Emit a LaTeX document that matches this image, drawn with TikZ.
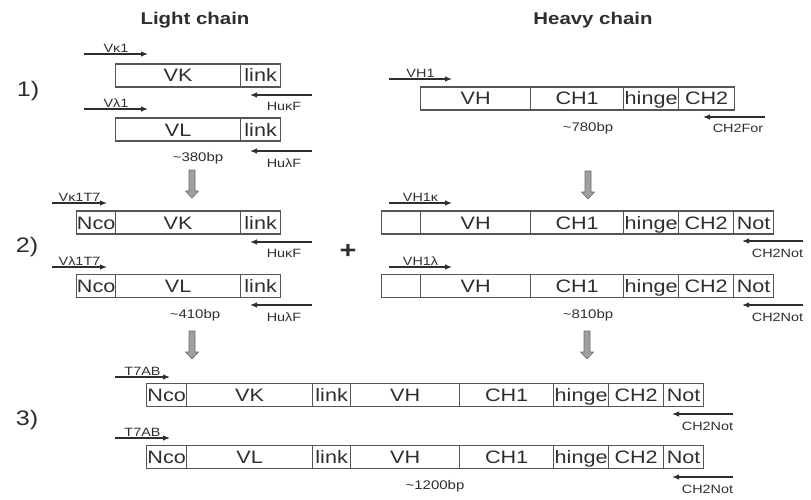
\documentclass[tikz,border=0pt]{standalone}
\usepackage{fontspec}
\setmainfont{Liberation Sans}[FakeStretch=1.2]
\usetikzlibrary{arrows.meta}
\definecolor{ink}{HTML}{2E2E2E}
\definecolor{frame}{HTML}{555555}
\begin{document}
\begin{tikzpicture}
   [x=1pt, y=-1pt, text=ink,
    seg node/.style={rectangle, draw=frame, line width=1.3pt, minimum height=23pt, inner sep=0pt, text height=13pt, text depth=0pt, anchor=west, font=\fontsize{18}{18}\selectfont},
    fwd primer/.style={draw=ink, line width=1.2pt, -{Latex[length=7pt,width=5.5pt]}},
    rev primer/.style={draw=ink, line width=1.2pt, -{Latex[length=7pt,width=5.5pt]}},
    primer label/.style={font=\fontsize{12}{12}\selectfont, inner sep=1pt},
    size label/.style={font=\fontsize{12.5}{13}\selectfont},
    row label/.style={font=\fontsize{21}{22}\selectfont},
    title label/.style={font=\bfseries\fontsize{17}{18}\selectfont},
    pics/gray arrow/.style={code={
      \draw[fill=gray!75, draw=gray!85!black, line width=0.6pt]
        (-3,0) -- (3,0) -- (3,21) -- (6.5,21) -- (0,28) -- (-6.5,21) -- (-3,21) -- cycle;}}]
   \useasboundingbox (0,0) rectangle (811,500);

   % titles
   \node[title label] (lt) at (195,20) {Light chain};
   \node[title label] (ht) at (593,20) {Heavy chain};

   % step numbers
   \node[row label] (s1) at (28,91) {1)};
   \node[row label] (s2) at (27,247) {2)};
   \node[row label] (s3) at (27,420) {3)};
   \node[font=\bfseries\fontsize{24}{24}\selectfont] (plus) at (348,251) {+};

   % step 1, light chain
   \draw[fwd primer] (84,54) -- node[primer label, above] (p1) {Vκ1} (148,54);
   \foreach \x/\w/\t [count=\i] in {115/125/VK, 240/40/link}
      \node[seg node, minimum width=\w pt] (ak\i) at (\x,75.5) {\t};
   \draw[rev primer] (312,95) -- node[primer label, below=6pt, xshift=3pt] (p2) {HuκF} (250,95);
   \draw[fwd primer] (84,109) -- node[primer label, above] (p3) {Vλ1} (148,109);
   \foreach \x/\w/\t [count=\i] in {115/125/VL, 240/40/link}
      \node[seg node, minimum width=\w pt] (al\i) at (\x,129.5) {\t};
   \draw[rev primer] (312,151) -- node[primer label, below=6pt, xshift=3pt] (p4) {HuλF} (250,151);
   \node[size label] (bp1) at (198,158) {\textasciitilde380bp};

   % step 1, heavy chain
   \draw[fwd primer] (389,79) -- node[primer label, above] (p5) {VH1} (452,79);
   \foreach \x/\w/\t [count=\i] in {420/110/VH, 530/93/CH1, 623/55/hinge, 678/56/CH2}
      \node[seg node, minimum width=\w pt] (ah\i) at (\x,98.5) {\t};
   \draw[rev primer] (765,117) -- node[primer label, below=6pt, xshift=4pt] (p6) {CH2For} (703,117);
   \node[size label] (bp2) at (588,128) {\textasciitilde780bp};

   \pic at (192,170) {gray arrow};
   \pic at (588,171) {gray arrow};

   % step 2, light chain
   \draw[fwd primer] (52,203) -- node[primer label, above] (p7) {Vκ1T7} (107,203);
   \foreach \x/\w/\t [count=\i] in {76/39/Nco, 115/125/VK, 240/40/link}
      \node[seg node, minimum width=\w pt] (bk\i) at (\x,222.5) {\t};
   \draw[rev primer] (312,242) -- node[primer label, below=6pt, xshift=3pt] (p8) {HuκF} (250,242);
   \draw[fwd primer] (52,267) -- node[primer label, above] (p9) {Vλ1T7} (107,267);
   \foreach \x/\w/\t [count=\i] in {76/39/Nco, 115/125/VL, 240/40/link}
      \node[seg node, minimum width=\w pt] (bl\i) at (\x,286) {\t};
   \draw[rev primer] (312,305) -- node[primer label, below=6pt, xshift=3pt] (p10) {HuλF} (250,305);
   \node[size label] (bp3) at (195,315) {\textasciitilde410bp};

   % step 2, heavy chain
   \draw[fwd primer] (389,203) -- node[primer label, above] (p11) {VH1κ} (452,203);
   \foreach \x/\w/\t [count=\i] in {381/39/{}, 420/110/VH, 530/93/CH1, 623/55/hinge, 678/55/CH2, 733/40/Not}
      \node[seg node, minimum width=\w pt] (bhk\i) at (\x,222.5) {\t};
   \draw[rev primer] (803,241) -- node[primer label, below=7pt, xshift=5pt] (p12) {CH2Not} (742,241);
   \draw[fwd primer] (389,267) -- node[primer label, above] (p13) {VH1λ} (452,267);
   \foreach \x/\w/\t [count=\i] in {381/39/{}, 420/110/VH, 530/93/CH1, 623/55/hinge, 678/55/CH2, 733/40/Not}
      \node[seg node, minimum width=\w pt] (bhl\i) at (\x,286) {\t};
   \draw[rev primer] (803,305) -- node[primer label, below=7pt, xshift=5pt] (p14) {CH2Not} (742,305);
   \node[size label] (bp4) at (588,315) {\textasciitilde810bp};

   \pic at (192,331) {gray arrow};
   \pic at (587,331) {gray arrow};

   % step 3, fused chains
   \draw[fwd primer] (115,377) -- node[primer label, above] (p15) {T7AB} (170,377);
   \foreach \x/\w/\t [count=\i] in {146/40/Nco, 186/126/VK, 312/38/link, 350/109/VH, 459/94/CH1, 553/55/hinge, 608/55/CH2, 663/40/Not}
      \node[seg node, minimum width=\w pt] (ck\i) at (\x,395) {\t};
   \draw[rev primer] (733,414) -- node[primer label, below=7pt, xshift=5pt] (p16) {CH2Not} (672,414);
   \draw[fwd primer] (115,438) -- node[primer label, above] (p17) {T7AB} (170,438);
   \foreach \x/\w/\t [count=\i] in {146/40/Nco, 186/126/VL, 312/38/link, 350/109/VH, 459/94/CH1, 553/55/hinge, 608/55/CH2, 663/40/Not}
      \node[seg node, minimum width=\w pt] (cl\i) at (\x,457) {\t};
   \draw[rev primer] (733,477) -- node[primer label, below=7pt, xshift=5pt] (p18) {CH2Not} (672,477);
   \node[size label] (bp5) at (435,486) {\textasciitilde1200bp};
\end{tikzpicture}
\end{document}
